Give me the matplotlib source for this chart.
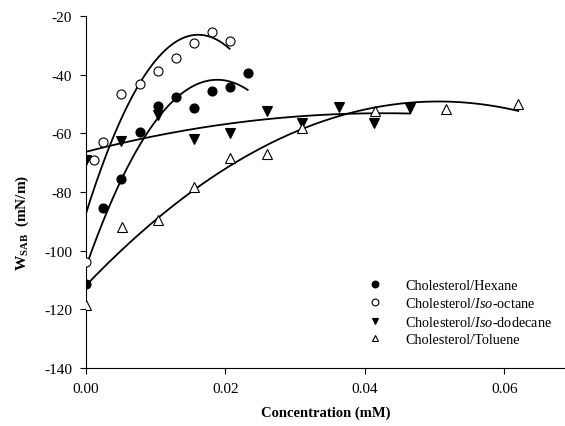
import matplotlib
matplotlib.use("Agg")
import matplotlib.pyplot as plt
import numpy as np

plt.rcParams['font.family'] = ['Liberation Serif', 'DejaVu Serif']
plt.rcParams['mathtext.fontset'] = 'custom'
plt.rcParams['mathtext.rm'] = 'Liberation Serif'
plt.rcParams['mathtext.bf'] = 'Liberation Serif:bold'
plt.rcParams['mathtext.it'] = 'Liberation Serif:italic'
plt.rcParams['axes.unicode_minus'] = False

# measured points
hex_x = [0.0, 0.0025, 0.0051, 0.0077, 0.0103, 0.0129, 0.0155, 0.0181, 0.0206, 0.0232]
hex_y = [-111.4, -85.5, -75.6, -59.7, -50.7, -47.5, -51.4, -45.7, -44.2, -39.4]

oct_x = [0.0, 0.0012, 0.0025, 0.0051, 0.0077, 0.0103, 0.0129, 0.0155, 0.0181, 0.0206]
oct_y = [-104.0, -69.0, -62.8, -46.7, -43.2, -38.9, -34.4, -29.2, -25.3, -28.4]

dod_x = [0.0, 0.0051, 0.0103, 0.0155, 0.0206, 0.0259, 0.031, 0.0363, 0.0413, 0.0465]
dod_y = [-69.0, -62.5, -53.8, -61.9, -60.0, -52.3, -56.3, -51.1, -56.3, -51.4]

tol_x = [0.0, 0.0052, 0.0103, 0.0155, 0.0206, 0.0259, 0.031, 0.0414, 0.0517, 0.062]
tol_y = [-118.5, -92.0, -89.5, -78.4, -68.3, -67.2, -58.3, -52.3, -51.7, -50.0]

series = [
    ("Cholesterol/Hexane", hex_x, hex_y, "o", "black"),
    ("Cholesterol/$\\mathit{Iso}$-octane", oct_x, oct_y, "o", "white"),
    ("Cholesterol/$\\mathit{Iso}$-dodecane", dod_x, dod_y, "v", "black"),
    ("Cholesterol/Toluene", tol_x, tol_y, "^", "white"),
]

fig = plt.figure(figsize=(5.65, 4.27), dpi=100)
ax = fig.add_axes([0.152, 0.136, 0.848, 0.824])

for label, xs, ys, mk, fc in series:
    xs = np.array(xs)
    ys = np.array(ys)
    # quadratic trend line over the data range
    c = np.polyfit(xs, ys, 2)
    xx = np.linspace(xs.min(), xs.max(), 200)
    ax.plot(xx, np.polyval(c, xx), color="black", lw=1.3, zorder=2)
    ax.plot(xs, ys, linestyle="none", marker=mk, ms=6.5, mfc=fc, mec="black",
            mew=0.8, label=label, zorder=3)

ax.set_xlim(0, 0.0687)
ax.set_ylim(-140, -20)
ax.set_xticks([0.0, 0.02, 0.04, 0.06])
ax.set_xticklabels(["0.00", "0.02", "0.04", "0.06"])
ax.set_yticks(range(-140, -19, 20))
ax.tick_params(direction="out", labelsize=11, length=4, width=0.8)
ax.tick_params(axis="y", pad=6)
ax.tick_params(axis="x", pad=6)
ax.spines["top"].set_visible(False)
ax.spines["right"].set_visible(False)
ax.spines["left"].set_linewidth(0.8)
ax.spines["bottom"].set_linewidth(0.8)

ax.set_xlabel("Concentration (mM)", fontsize=10.5, fontweight="bold", labelpad=8)
ax.set_ylabel(r"$\mathbf{W_{SAB}}$  (mN/m)", fontsize=11, fontweight="bold")
ax.yaxis.set_label_coords(-0.114, 0.415)

ax.legend(loc="lower right", bbox_to_anchor=(1.0, 0.025), frameon=False,
          fontsize=10.3, handletextpad=1.1, labelspacing=0.32, markerscale=0.75)

fig.savefig("out.png", dpi=100)
